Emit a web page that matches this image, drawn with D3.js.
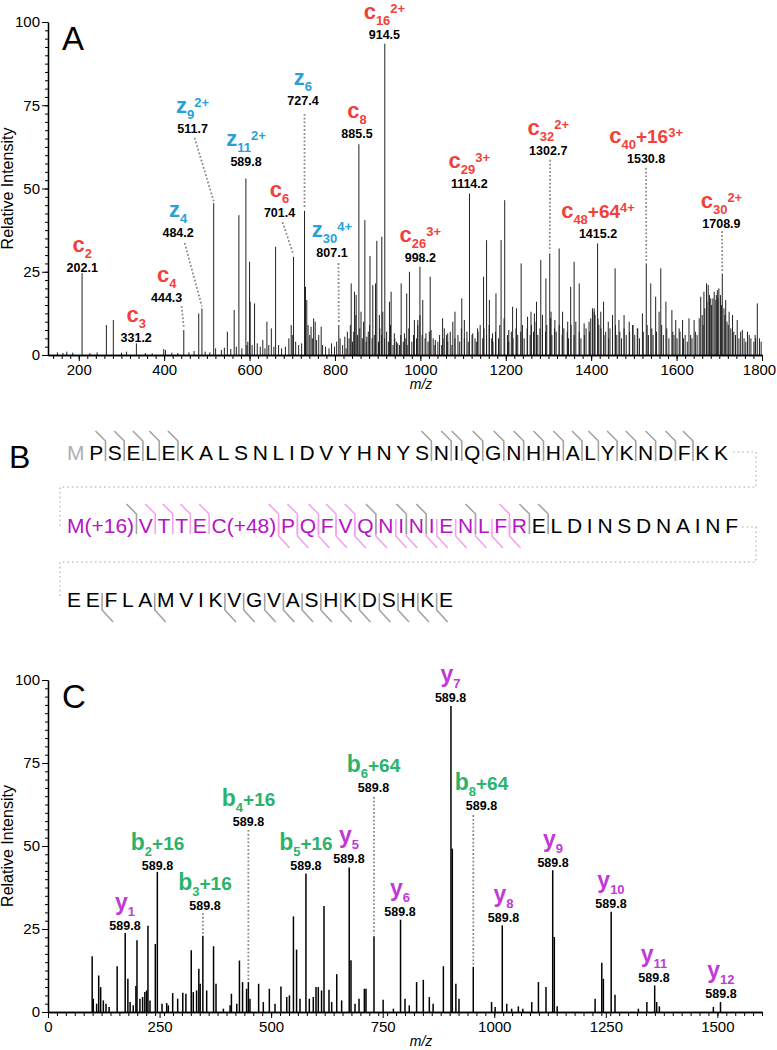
<!DOCTYPE html>
<html>
<head>
<meta charset="utf-8">
<script src="https://cdn.jsdelivr.net/npm/d3@7"></script>
<style>
  body { margin: 0; background: #fff; }
</style>
</head>
<body>
<svg id="chart" width="777" height="1050"></svg>
<script>
const FONT = '"Liberation Sans", Arial, Helvetica, sans-serif'
let svg = d3.select('#chart')

// ---------------- data: panel A (top-down spectrum) ----------------
let ticksA = [200, 400, 600, 800, 1000, 1200, 1400, 1600, 1800]
let ticksY = [0, 25, 50, 75, 100]

// [m/z, relative intensity]
let peaksA = [
  [207.8,24.6],[264.7,9],[281,10.5],[335,3.5],[403,1.5],[446,7.5],[481,12.5],[488.5,14],[516,45.6],[520.5,2],
  [548,7],[564,13.5],[575,42],[591.4,53],[593.7,3],[600,28],[601.5,16],[611.7,15.5],[631,4.5],[640.6,10],
  [651,8],[661,32.5],[697.5,9],[703,29.5],[728.7,43.3],[731,20.5],[734,16.5],[744,8.5],[750,11],[753.7,10],
  [767.7,8.5],[799,2.5],[809,9],[826,2],[838,21.5],[845.7,19],[849.6,18],[856,63.3],[861,13],[870,40.5],
  [874.6,5.5],[882,29.7],[888.6,21],[895,21.5],[898,34.3],[904,12],[909.7,35.5],[912,13],[916.7,93.5],[927.6,16],
  [931.5,19],[939,6.5],[947,3.5],[955,21.5],[962.7,6.5],[968,18.5],[974.4,25],[986,10.5],[994,10.5],[999,26.5],
  [1005.6,16.5],[1013,6.5],[1023,23.5],[1025,7.5],[1035,4.5],[1052,11],[1056,8],[1064,6.5],[1076,10],[1081,13],
  [1097,17],[1103,10.5],[1115,48.5],[1122.6,6.5],[1134,8],[1140,9],[1148,23.5],[1155,34.5],[1161.6,16.5],[1169,6.5],
  [1177,18.5],[1189,34.5],[1197.5,46.5],[1207,7.5],[1216,14.5],
  [1225,14],[1236,27.5],[1251,11.5],[1259,13],[1267,12.5],[1272,16],[1282,28.5],[1286,11.5],[1294,23],[1303,30.5],
  [1306,13],[1315,10.5],[1325,32],[1333,13],[1345,10],[1352,20.5],[1360,28],[1372,21.5],[1383.5,9.5],[1395,10],
  [1403,14],[1407,13],[1415,33.5],[1422.5,13],[1429,16],[1440,10],[1450,12],[1456,26],[1465,10.5],[1477,12],
  [1489,10],[1497,9],[1508,8],[1520,12.5],[1529,27.5],[1539.5,21.5],[1551,17.5],[1559,13],[1563,26],[1575,16],
  [1589,13.5],[1598,10.5],[1606,8],[1614,10.5],[1629,11],[1641,10.5],[1653,11],[1656.5,17.5],[1664,19],[1670,21.5],
  [1674,21],[1680,17],[1685,17],[1692,16.5],[1695.5,19.5],[1699,20],[1707,24.5],[1715,16.5],[1723,13],[1731,12],
  [1742,10.5],[1754,7.5],[1766,7],[1785,5],[1789,15.5]
]

// low-level peaks making up the dense floor of the spectrum
let floorA = [
  [150,0.8],[163,0.6],[172,1],[186,0.7],[226,0.6],[243,0.8],[300,0.7],[312,1],[356,0.6],[372,0.5],
  [399,1.8],[418,0.7],[432,0.6],[458,0.8],[470,1.2],[496,1],[507,0.8],[534,1.5],[541,2.2],[556,1.8],
  [569,2.5],[582,2],[596,4],[606,3],[618,3.5],[625,2.5],[636,2],[645,3],[657,2.5],[668,3],
  [675,2],[684,2.5],[692,5],[700,6],[708,4],[715,3],[722,3.5],[737,9],[741,6],[747,5],
  [757,4.5],[762,6],[771,3],[778,2.5],[786,2],[792,3.5],[804,4],[812,5],[818,3],[823,5.5],[829,7],
  [833,5],[836,9],[841,4],[844,7],[849,12],[853,6],[858,8],[864,5],[867,10],[873,4],
  [878,7],[881,9],[887,5],[892,6],[895,13],[902,4],[905,8],[909,6],[916,5],[921,7],
  [925,4],[930,9],[936,3],[940,5],[944,4],[951,3],[954,6],[960,4],[966,5],[969,3],
  [973,8],[980,4],[984,6],[991,5],[994,9],[999,12],[1004,6],[1011,5],[1018,4],[1021,7],
  [1030,5],[1034,3],[1041,4],[1045,6],[1050,3],[1053,5],[1061,6],[1064,4],[1070,7],[1074,3],
  [1081,5],[1088,6],[1092,4],[1096,8],[1103,5],[1109,7],[1112,4],[1121,6],[1128,5],[1131,4],
  [1135,7],[1146,5],[1149,8],[1155,6],[1161,9],[1167,5],[1170,4],[1176,7],[1183,5],[1186,9],
  [1196,11],[1204,6],[1207,4],[1213,7],[1217,5],[1224,8],[1228,6],[1235,7],[1239,9],[1243,5],
  [1250,8],[1257,6],[1260,9],[1265,7],[1271,10],[1275,6],[1280,8],[1286,12],[1293,7],[1296,9],
  [1305,11],[1308,6],[1314,8],[1318,7],[1325,9],[1332,6],[1336,8],[1344,7],[1347,5],[1353,9],
  [1360,6],[1364,10],[1372,7],[1376,5],[1384,6],[1388,8],[1396,7],[1399,11],[1407,14],[1409,12],
  [1416,11],[1418,9],[1423,8],[1430,6],[1434,7],[1441,5],[1444,8],[1450,6],[1457,9],[1460,6],
  [1467,7],[1471,5],[1477,8],[1482,6],[1490,7],[1498,9],[1502,6],[1509,8],[1513,5],[1522,7],
  [1531,9],[1534,6],[1542,8],[1545,6],[1553,7],[1565,9],[1569,6],[1577,8],[1582,5],[1591,7],
  [1594,6],[1601,5],[1608,7],[1616,5],[1620,6],[1625,4],[1633,6],[1636,5],[1644,7],[1648,6],
  [1660,12],[1662,9],[1666,14],[1671,16],[1677,18],[1682,15],[1688,19],[1693,18],[1697,17],[1703,18],
  [1705,15],[1711,14],[1713,12],[1718,10],[1721,9],[1727,8],[1734,7],[1738,6],[1746,5],[1750,7],
  [1758,5],[1762,4],[1770,6],[1774,5],[1781,4],[1784,6],[1794,5],[1798,4]
]

// annotated fragment ions of panel A
let ionsA = [
  {ion:'c', sub:'2',  mod:'',    z:'',   mz:'202.1',  peak:[207.8,24.6]},
  {ion:'c', sub:'3',  mod:'',    z:'',   mz:'331.2',  peak:[335,3.5]},
  {ion:'c', sub:'4',  mod:'',    z:'',   mz:'444.3',  peak:[446,7.5]},
  {ion:'z', sub:'4',  mod:'',    z:'',   mz:'484.2',  peak:[488.5,14]},
  {ion:'z', sub:'9',  mod:'',    z:'2+', mz:'511.7',  peak:[516,45.6]},
  {ion:'z', sub:'11', mod:'',    z:'2+', mz:'589.8',  peak:[591.4,53]},
  {ion:'c', sub:'6',  mod:'',    z:'',   mz:'701.4',  peak:[703,29.5]},
  {ion:'z', sub:'6',  mod:'',    z:'',   mz:'727.4',  peak:[728.7,43.3]},
  {ion:'z', sub:'30', mod:'',    z:'4+', mz:'807.1',  peak:[809,9]},
  {ion:'c', sub:'8',  mod:'',    z:'',   mz:'885.5',  peak:[856,63.3]},
  {ion:'c', sub:'16', mod:'',    z:'2+', mz:'914.5',  peak:[916.7,93.5]},
  {ion:'c', sub:'26', mod:'',    z:'3+', mz:'998.2',  peak:[999,26.5]},
  {ion:'c', sub:'29', mod:'',    z:'3+', mz:'1114.2', peak:[1115,48.5]},
  {ion:'c', sub:'32', mod:'',    z:'2+', mz:'1302.7', peak:[1303,30.5]},
  {ion:'c', sub:'48', mod:'+64', z:'4+', mz:'1415.2', peak:[1415,33.5]},
  {ion:'c', sub:'40', mod:'+16', z:'3+', mz:'1530.8', peak:[1529,27.5]},
  {ion:'c', sub:'30', mod:'',    z:'2+', mz:'1708.9', peak:[1707,24.5]}
]
// where each m/z value label sits (m/z, intensity of its baseline)
let labelAtA = [[208.2,24.9],[334.5,3.9],[405.8,15.9],[432.7,35.4],[466.7,66.7],[591.8,56.8],[670.2,41.4],
  [725.1,75.1],[793,29.4],[851.5,65.2],[915.8,94.8],[1000,27.9],[1114.6,50.2],[1299.4,60],[1416,35.1],
  [1528.6,57.7],[1705,38.1]]
// start of the dotted leader (null = label sits right on its peak)
let leaderA = [null,null,[441,14.7],[448,33.6],[471.3,65.2],null,[677.2,39.9],[728.7,72.4],[808.2,27.6],
  null,null,null,null,[1304,58.6],null,[1528.6,56.2],[1706.4,37.2]]

// ---------------- data: panel B (sequence coverage) ----------------
let row1 = 'MPSELEKALSNLIDVYHNYSNIQGNHHALYKNDFKK'.split('')
let row2 = ['M(+16)','V','T','T','E','C(+48)','P','Q','F','V','Q','N','I','N','I','E','N','L','F','R',
  'E','L','D','I','N','S','D','N','A','I','N','F']
let row3 = 'EEFLAMVIKVGVASHKDSHKE'.split('')
let row2Peptide = 20   // residues of row 2 that belong to the modified peptide
// cleavages: index of the residue after which the bond is cut
let row1C = [1,2,3,4,5,19,20,21,22,23,24,25,26,27,28,29,30,31,32,33]
let row2C = [0,10,12,13,16,19,20]
let row2B = [1,2,3,4,5,6,7,8,9,18]
let row2Y = [5,6,7,8,9,10,11,12,13,14,15,16,17,18]
let row3Z = [1,4,8,9,10,11,12,13,14,15,16,17,18,19]

// ---------------- data: panel C (MS3 spectrum) ----------------
let ticksC = [0, 250, 500, 750, 1000, 1250, 1500]
let peaksC = [
  [99,16.8],[101.5,4],[109,2.5],[113.6,11],[118,7.5],[124,3.5],[130,2.5],[137,1.5],[155,13.8],[173,23.8],
  [179,10],[184,3],[191,2],[197,7.8],[199.4,21.6],[206,4],[212,4.5],[217,6],[221,6.5],[224,26],
  [228.6,3.5],[240.5,20.5],[245,42.2],[255.5,2.5],[266,2.7],[269.6,2],[279.4,5.7],[290.6,4],[302,5.8],[309,5.5],
  [321,18.6],[325.6,6],[333,6.5],[338,13],[341,8.5],[347,23],[355.6,6.5],[371,19.8],[376.5,8.5],[393,1],
  [408,2],[411,5.5],[423,2.5],[429,15.5],[436,9],[445,7],[449,9],[452.6,4],[472,8.5],[482.5,3],
  [496,7],[508.7,2.5],[522,7.7],[535,4.5],[541,5],[550,28.8],[557,18.8],[564.7,4],[578,41.7],[585.6,4],
  [594.5,4.5],[600.6,7.5],[605.7,7.5],[613,6.5],[618.5,31.9],[629.7,6.7],[635.7,3],[647,11.4],[658,3.5],[675,43.5],
  [679,15.6],[688,2.5],[697,4],[709,7],[712.6,7],[730.5,22.8],[751,3.7],[774,1],[790,27.8],[800,4],
  [809.6,2],[826,9],[841,9.7],[854.5,4.5],[863,2.5],[886,13.8],[903,92.2],[906,49.2],[914,8.5],[921,4],
  [953,13.6],[994,3],[1002,1.5],[1018,26.1],[1028,2.5],[1039,1],[1054,1.7],[1064,1],[1084,3],[1099,9],
  [1116,7.5],[1131,42.7],[1134.6,22.6],[1141,1.7],[1226,4],[1241,14.8],[1244.5,10],[1262,30.2],[1270.6,5.2],[1323,1],
  [1342,3],[1359.5,8],[1364,3],[1370,1.7],[1491,1.5],[1507,3]
]
let ionsC = [
  {ion:'y', sub:'1',  mod:'',    mz:'589.8', peak:[173,23.8]},
  {ion:'b', sub:'2',  mod:'+16', mz:'589.8', peak:[245,42.2]},
  {ion:'b', sub:'3',  mod:'+16', mz:'589.8', peak:[347,23]},
  {ion:'b', sub:'4',  mod:'+16', mz:'589.8', peak:[449,9]},
  {ion:'b', sub:'5',  mod:'+16', mz:'589.8', peak:[578,41.7]},
  {ion:'y', sub:'5',  mod:'',    mz:'589.8', peak:[675,43.5]},
  {ion:'b', sub:'6',  mod:'+64', mz:'589.8', peak:[730.5,22.8]},
  {ion:'y', sub:'6',  mod:'',    mz:'589.8', peak:[790,27.8]},
  {ion:'y', sub:'7',  mod:'',    mz:'589.8', peak:[903,92.2]},
  {ion:'b', sub:'8',  mod:'+64', mz:'589.8', peak:[953,13.6]},
  {ion:'y', sub:'8',  mod:'',    mz:'589.8', peak:[1018,26.1]},
  {ion:'y', sub:'9',  mod:'',    mz:'589.8', peak:[1131,42.7]},
  {ion:'y', sub:'10', mod:'',    mz:'589.8', peak:[1262,30.2]},
  {ion:'y', sub:'11', mod:'',    mz:'589.8', peak:[1359.5,8]},
  {ion:'y', sub:'12', mod:'',    mz:'589.8', peak:[1507,3]}
]
let labelAtC = [[172.5,24.7],[245.4,42.8],[351.8,30.7],[449.3,56],[578,42.8],[674.5,44.9],[729.4,66.3],
  [788.8,28.9],[902,93.4],[971.4,60.8],[1020.7,27.1],[1131.7,43.7],[1261.6,31.3],[1358,9],[1508,4.2]]
let leaderC = [null,null,[347.3,29.8],[449,54.8],null,null,[730.5,64.8],null,null,[953,59.3],null,null,null,null,null]

// ---------------- colours ----------------
let ionColor = { c: '#f2403a', z: '#2a9fd8', y: '#c03ad6', b: '#2bb36b' }

// ---------------- helpers ----------------
let ionLabel = (g, x, y, d, cfg) => {
  let t = g.append('text')
    .attr('x', x).attr('y', y)
    .attr('text-anchor', 'middle')
    .attr('font-family', FONT)
    .attr('font-weight', 'bold')
    .attr('fill', ionColor[d.ion])
  t.append('tspan').attr('font-size', cfg.ionSize).text(d.ion)
  let shift = 0
  if (d.sub) {
    t.append('tspan').attr('font-size', 13).attr('dy', 6).text(d.sub)
    shift = 6
  }
  if (d.mod) {
    t.append('tspan').attr('font-size', cfg.modSize).attr('dy', -shift).text(d.mod)
    shift = 0
  }
  if (d.z) {
    t.append('tspan').attr('font-size', 13).attr('dy', -6 - shift).text(d.z)
  }
}

let drawSpectrum = (cfg) => {
  let g = svg.append('g')
  let x = d3.scaleLinear().domain(cfg.xDomain).range([48, 762])
  let y = d3.scaleLinear().domain([0, 100]).range([cfg.yBottom, cfg.yTop])

  // peaks
  let all = cfg.floor ? cfg.floor.concat(cfg.peaks) : cfg.peaks
  g.append('g').selectAll('line')
    .data(all)
    .enter()
    .append('line')
    .attr('x1', d => x(d[0]))
    .attr('x2', d => x(d[0]))
    .attr('y1', y(0))
    .attr('y2', d => y(d[1]))
    .attr('stroke', cfg.peakColor)
    .attr('stroke-width', cfg.peakWidth)

  // axes: minor ticks first, then labelled ones
  let minorY = d3.range(0, 100.1, 2.5)
  g.append('g').attr('transform', 'translate(48,0)')
    .call(d3.axisLeft(y).tickValues(minorY).tickSize(3).tickFormat('').tickSizeOuter(0))
  let yAxis = g.append('g').attr('transform', 'translate(48,0)')
    .call(d3.axisLeft(y).tickValues(ticksY).tickSize(6).tickPadding(2).tickSizeOuter(0))
  g.append('g').attr('transform', 'translate(0,' + y(0) + ')')
    .call(d3.axisBottom(x).tickValues(cfg.minorX).tickSize(4).tickFormat('').tickSizeOuter(0))
  let xAxis = g.append('g').attr('transform', 'translate(0,' + y(0) + ')')
    .call(d3.axisBottom(x).tickValues(cfg.ticksX).tickSize(6).tickPadding(3)
      .tickFormat(d3.format('d')).tickSizeOuter(0))

  g.selectAll('.domain').attr('stroke', '#000').attr('stroke-width', 1.3)
  g.selectAll('.tick line').attr('stroke', '#000').attr('stroke-width', 1)
  ;[xAxis, yAxis].forEach(a => a.selectAll('text')
    .attr('font-family', FONT).attr('font-size', 15).attr('fill', '#000'))
  // keep the last x label inside the page
  xAxis.selectAll('text').filter(d => x(d) > 750).attr('dx', -3)

  // axis titles and panel letter
  g.append('text')
    .attr('transform', 'translate(13,' + (y(0) + y(100)) / 2 + ') rotate(-90)')
    .attr('text-anchor', 'middle')
    .attr('font-family', FONT).attr('font-size', 16)
    .text('Relative Intensity')
  g.append('text')
    .attr('x', 421).attr('y', y(0) + 34)
    .attr('text-anchor', 'middle')
    .attr('font-family', FONT).attr('font-size', 14).attr('font-style', 'italic')
    .text('m/z')
  g.append('text')
    .attr('x', 62).attr('y', y(100) + 28)
    .attr('font-family', FONT).attr('font-size', 33)
    .text(cfg.letter)

  // annotations
  cfg.ions.forEach((d, i) => {
    let at = cfg.labelAt[i]
    let lx = x(at[0]), ly = y(at[1])
    if (cfg.leader[i]) {
      let s = cfg.leader[i]
      g.append('line')
        .attr('x1', x(s[0])).attr('y1', y(s[1]))
        .attr('x2', x(d.peak[0])).attr('y2', y(d.peak[1]) - 2)
        .attr('stroke', '#8c8c8c')
        .attr('stroke-width', 1.8)
        .attr('stroke-dasharray', '1.8 2')
    }
    g.append('text')
      .attr('x', lx).attr('y', ly)
      .attr('text-anchor', 'middle')
      .attr('font-family', FONT).attr('font-size', 12.5).attr('font-weight', 'bold')
      .text(d.mz)
    ionLabel(g, lx, ly - 20, d, cfg)
  })
}

// ---------------- panel A ----------------
drawSpectrum({
  letter: 'A',
  xDomain: [128, 1800],
  yBottom: 355, yTop: 22,
  ticksX: ticksA,
  minorX: d3.range(140, 1800.1, 20),
  peaks: peaksA, floor: floorA,
  peakColor: '#222', peakWidth: 1,
  ions: ionsA, labelAt: labelAtA, leader: leaderA,
  ionSize: 22, modSize: 19
})

// ---------------- panel C ----------------
drawSpectrum({
  letter: 'C',
  xDomain: [0, 1600],
  yBottom: 1012, yTop: 680,
  ticksX: ticksC,
  minorX: d3.range(0, 1600.1, 20),
  peaks: peaksC, floor: null,
  peakColor: '#000', peakWidth: 1.5,
  ions: ionsC, labelAt: labelAtC, leader: leaderC,
  ionSize: 23, modSize: 19
})

// ---------------- panel B ----------------
let gB = svg.append('g')
gB.append('text')
  .attr('x', 9).attr('y', 468)
  .attr('font-family', FONT).attr('font-size', 32)
  .text('B')

let seqSize = 21
let layoutRow = (residues, x0, x1) => {
  let tmp = gB.append('text').attr('font-family', FONT).attr('font-size', seqSize)
  let w = residues.map(r => {
    tmp.text(r)
    return tmp.node().getComputedTextLength()
  })
  tmp.remove()
  let gap = (x1 - x0 - d3.sum(w)) / (residues.length - 1)
  let xs = []
  let cx = x0
  w.forEach(v => { xs.push(cx); cx += v + gap })
  return residues.map((r, i) => ({ r: r, x: xs[i], w: w[i] }))
}

let drawRow = (cells, base, colorOf) => {
  gB.append('g').selectAll('text')
    .data(cells)
    .enter()
    .append('text')
    .attr('x', d => d.x)
    .attr('y', base)
    .attr('font-family', FONT)
    .attr('font-size', seqSize)
    .attr('fill', (d, i) => colorOf(i))
    .text(d => d.r)
}

let cutX = (cells, i) => (cells[i].x + cells[i].w + cells[i + 1].x) / 2

let markAbove = (cells, base, cuts, color) => {
  cuts.forEach(i => {
    let cx = cutX(cells, i)
    gB.append('path')
      .attr('d', 'M' + cx + ',' + (base + 1) + 'V' + (base - 19) + 'L' + (cx - 10) + ',' + (base - 29))
      .attr('fill', 'none').attr('stroke', color).attr('stroke-width', 1.6)
  })
}
let markBelow = (cells, base, cuts, color) => {
  cuts.forEach(i => {
    let cx = cutX(cells, i)
    gB.append('path')
      .attr('d', 'M' + cx + ',' + (base - 14) + 'V' + (base + 3) + 'L' + (cx + 11) + ',' + (base + 15))
      .attr('fill', 'none').attr('stroke', color).attr('stroke-width', 1.6)
  })
}

let gray = '#a3a3a3', pink = '#f4a2ee', magenta = '#b513c6'
let base1 = 460, base2 = 533, base3 = 607

let cells1 = layoutRow(row1, 67, 728)
let cells2 = layoutRow(row2, 67, 738)
let cells3 = layoutRow(row3, 67, 453)

// markers under the letters first
markAbove(cells1, base1, row1C, gray)
markBelow(cells2, base2, row2Y, pink)
markAbove(cells2, base2, row2C, gray)
markAbove(cells2, base2, row2B, pink)
markBelow(cells3, base3, row3Z, gray)

drawRow(cells1, base1, i => i === 0 ? '#b0b0b0' : '#000')
drawRow(cells2, base2, i => i < row2Peptide ? magenta : '#000')
drawRow(cells3, base3, () => '#000')

// dotted connectors between the wrapped rows
let snake = [
  [[733, 452], [756, 452], [756, 487], [60, 487], [60, 527]],
  [[742, 527], [756, 527], [756, 562], [60, 562], [60, 599]]
]
snake.forEach(p => {
  gB.append('path')
    .attr('d', d3.line()(p))
    .attr('fill', 'none')
    .attr('stroke', '#c4c4c4')
    .attr('stroke-width', 1.6)
    .attr('stroke-dasharray', '1.6 3')
})
</script>
</body>
</html>
